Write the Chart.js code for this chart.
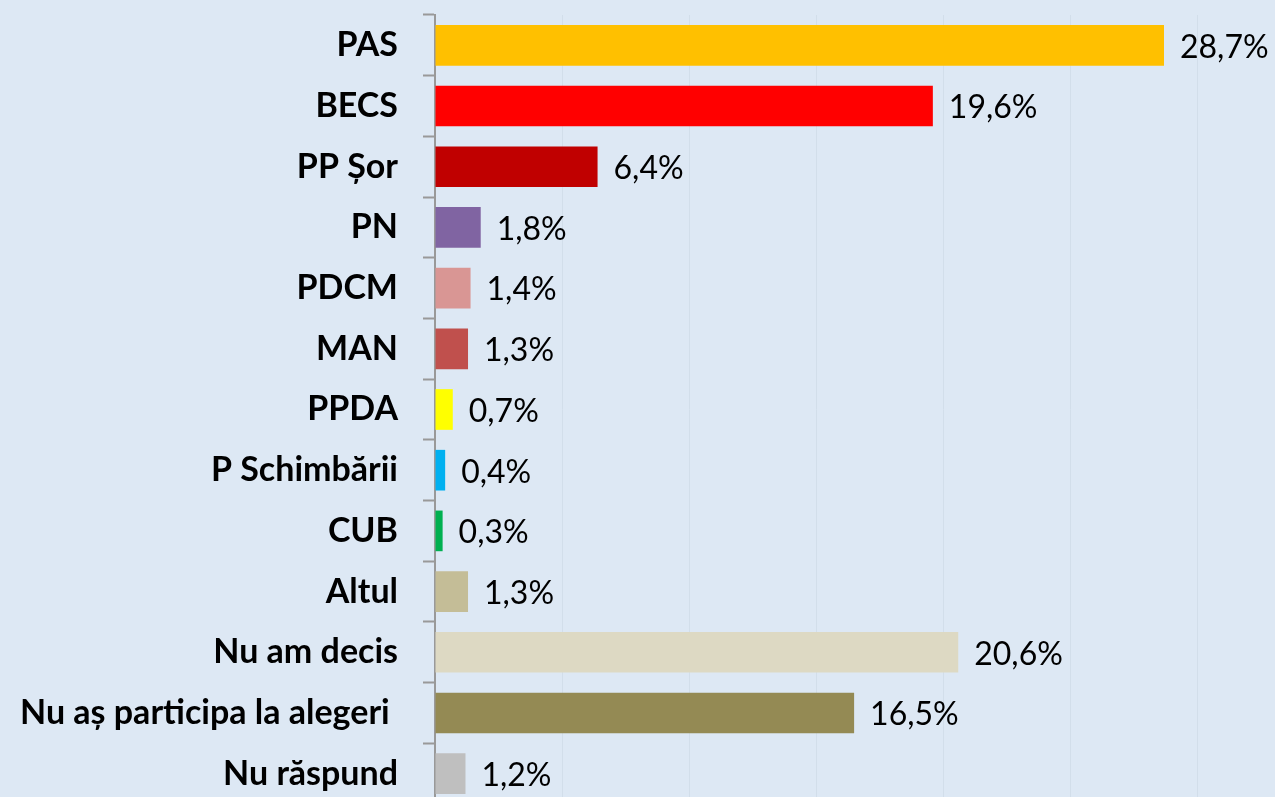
<!DOCTYPE html>
<html>
<head>
<meta charset="utf-8">
<script src="https://cdn.jsdelivr.net/npm/chart.js@4"></script>
<style>
  html, body { margin: 0; padding: 0; overflow: hidden; background: #DDE8F4; }
  canvas { display: block; }
</style>
</head>
<body>
<canvas id="poll-chart" width="1275" height="810"></canvas>
<script>
// Parties / answers and their share (%)
const parties = ['PAS', 'BECS', 'PP Șor', 'PN', 'PDCM', 'MAN', 'PPDA', 'P Schimbării', 'CUB', 'Altul', 'Nu am decis', 'Nu aș participa la alegeri ', 'Nu răspund'];
const shares = [28.7, 19.6, 6.4, 1.8, 1.4, 1.3, 0.7, 0.4, 0.3, 1.3, 20.6, 16.5, 1.2];
const barColors = ['#FFC000', '#FF0000', '#C00000', '#8064A2', '#D99694', '#C0504D', '#FFFF00', '#00B0F0', '#00B050', '#C4BD97', '#DDD9C3', '#948A54', '#BFBFBF'];

// Draw the value labels right of each bar
const valueLabels = {
    id: 'valueLabels',
    afterDatasetsDraw(chart) {
        const ctx = chart.ctx;
        const meta = chart.getDatasetMeta(0);
        ctx.save();
        ctx.font = '32px Lato';
        ctx.fillStyle = '#000';
        ctx.textAlign = 'left';
        ctx.textBaseline = 'middle';
        meta.data.forEach((bar, i) => {
            const text = shares[i].toFixed(1).replace('.', ',') + '%';
            ctx.fillText(text, bar.x + 16, bar.y + 2);
        });
        ctx.restore();
    }
};

let ctx = document.getElementById('poll-chart').getContext('2d');
let pollChart = new Chart(ctx, {
    type: 'bar',
    data: {
        labels: parties,
        datasets: [{
            data: shares,
            backgroundColor: barColors,
            barPercentage: 0.67,
            categoryPercentage: 1
        }]
    },
    options: {
        indexAxis: 'y',
        responsive: false,
        animation: false,
        layout: { padding: { top: 15, bottom: 6, left: 0, right: 0 } },
        plugins: {
            legend: { display: false },
            tooltip: { enabled: false }
        },
        scales: {
            x: {
                min: 0,
                max: 33.07,
                ticks: { display: false, stepSize: 5 },
                grid: {
                    color: ctx => (ctx.tick && ctx.tick.value % 5 === 0 && ctx.tick.value > 0) ? '#D2DEEA' : 'rgba(0,0,0,0)',
                    lineWidth: 1,
                    drawTicks: false
                },
                border: { display: false }
            },
            y: {
                afterFit(scale) {
                    scale.width = 435;
                    scale.paddingTop = 0;
                    scale.paddingBottom = 0;
                },
                ticks: {
                    color: '#000',
                    padding: 25,
                    font: { family: 'Lato', size: 34, weight: 'bold' }
                },
                grid: {
                    drawOnChartArea: false,
                    tickLength: 12,
                    tickColor: '#999999',
                    tickWidth: 2
                },
                border: { display: true, color: '#999999', width: 2 }
            }
        }
    },
    plugins: [valueLabels]
});
</script>
</body>
</html>
